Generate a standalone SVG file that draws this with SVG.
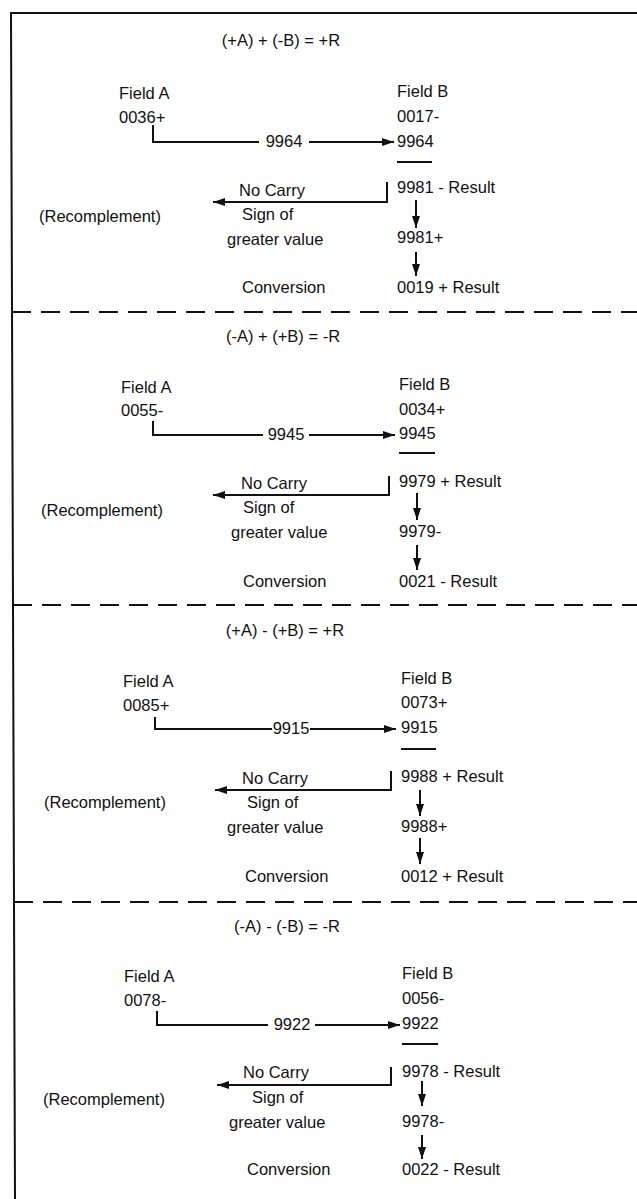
<svg xmlns="http://www.w3.org/2000/svg" width="637" height="1199" viewBox="0 0 637 1199">
<defs>
<style>
text{font-family:"Liberation Sans",Arial,sans-serif;font-size:16.5px;fill:#111}
.t{text-anchor:middle}
.m{text-anchor:middle}
.c{fill:none;stroke:#111;stroke-width:2}
.d{fill:none;stroke:#111;stroke-width:2.2;stroke-dasharray:19 10}
.u{stroke:#111;stroke-width:2}
</style>
<marker id="ah" markerUnits="userSpaceOnUse" markerWidth="12" markerHeight="10" viewBox="0 0 12 10" refX="12" refY="5" orient="auto">
<path d="M0,1 L12,5 L0,9 Z" fill="#111"/>
</marker>
</defs>
<rect width="637" height="1199" fill="#fff"/>
<g id="frame">
<path class="c" d="M637,13 H11 L15,1199"/>
<path class="d" d="M12,312 H637"/>
<path class="d" d="M13,605 H637"/>
<path class="d" d="M14,902 H637"/>
</g>

<g id="section1">
<g id="s1-title"><text class="t" x="281" y="46">(+A) + (-B) = +R</text></g>
<g id="s1-fieldA"><text x="119" y="99">Field A</text><text x="119" y="123">0036+</text></g>
<g id="s1-fieldB"><text x="397" y="97">Field B</text><text x="397" y="122">0017-</text><text x="397" y="147">9964</text><line class="u" x1="397" y1="162" x2="432" y2="162"/></g>
<g id="s1-result"><text x="397" y="193">9981 - Result</text></g>
<g id="s1-nocarry"><text x="239" y="196">No Carry</text></g>
<g id="s1-sign"><text x="242" y="220">Sign of</text><text x="227" y="245">greater value</text></g>
<g id="s1-recomp"><text x="39" y="222">(Recomplement)</text></g>
<g id="s1-signed"><text x="397" y="243">9981+</text></g>
<g id="s1-final"><text x="397" y="293">0019 + Result</text></g>
<g id="s1-conv"><text x="242" y="293">Conversion</text></g>
</g>

<g id="section2">
<g id="s2-title"><text class="t" x="283" y="342">(-A) + (+B) = -R</text></g>
<g id="s2-fieldA"><text x="121" y="393">Field A</text><text x="121" y="416">0055-</text></g>
<g id="s2-fieldB"><text x="399" y="390">Field B</text><text x="399" y="415">0034+</text><text x="399" y="439">9945</text><line class="u" x1="399" y1="453" x2="435" y2="453"/></g>
<g id="s2-result"><text x="399" y="487">9979 + Result</text></g>
<g id="s2-nocarry"><text x="241" y="489">No Carry</text></g>
<g id="s2-sign"><text x="243" y="513">Sign of</text><text x="231" y="538">greater value</text></g>
<g id="s2-recomp"><text x="41" y="516">(Recomplement)</text></g>
<g id="s2-signed"><text x="399" y="537">9979-</text></g>
<g id="s2-final"><text x="399" y="587">0021 - Result</text></g>
<g id="s2-conv"><text x="243" y="587">Conversion</text></g>
</g>

<g id="section3">
<g id="s3-title"><text class="t" x="285" y="636">(+A) - (+B) = +R</text></g>
<g id="s3-fieldA"><text x="123" y="687">Field A</text><text x="123" y="711">0085+</text></g>
<g id="s3-fieldB"><text x="401" y="684">Field B</text><text x="401" y="708">0073+</text><text x="401" y="733">9915</text><line class="u" x1="401" y1="749" x2="436" y2="749"/></g>
<g id="s3-result"><text x="401" y="782">9988 + Result</text></g>
<g id="s3-nocarry"><text x="242" y="784">No Carry</text></g>
<g id="s3-sign"><text x="247" y="808">Sign of</text><text x="227" y="833">greater value</text></g>
<g id="s3-recomp"><text x="44" y="808">(Recomplement)</text></g>
<g id="s3-signed"><text x="401" y="832">9988+</text></g>
<g id="s3-final"><text x="401" y="882">0012 + Result</text></g>
<g id="s3-conv"><text x="245" y="882">Conversion</text></g>
</g>

<g id="section4">
<g id="s4-title"><text class="t" x="287" y="932">(-A) - (-B) = -R</text></g>
<g id="s4-fieldA"><text x="124" y="982">Field A</text><text x="124" y="1006">0078-</text></g>
<g id="s4-fieldB"><text x="402" y="979">Field B</text><text x="402" y="1004">0056-</text><text x="402" y="1029">9922</text><line class="u" x1="402" y1="1044" x2="438" y2="1044"/></g>
<g id="s4-result"><text x="402" y="1077">9978 - Result</text></g>
<g id="s4-nocarry"><text x="243" y="1078">No Carry</text></g>
<g id="s4-sign"><text x="252" y="1103">Sign of</text><text x="229" y="1128">greater value</text></g>
<g id="s4-recomp"><text x="43" y="1105">(Recomplement)</text></g>
<g id="s4-signed"><text x="402" y="1127">9978-</text></g>
<g id="s4-final"><text x="402" y="1175">0022 - Result</text></g>
<g id="s4-conv"><text x="247" y="1175">Conversion</text></g>
</g>

<g id="connectors">
<path class="c" d="M153,125 V142 H259"/>
<text class="m" x="284" y="147">9964</text>
<path class="c" d="M309,142 H394" marker-end="url(#ah)"/>
<path class="c" d="M387,182 V202 H213" marker-end="url(#ah)"/>
<path class="c" d="M416,200 V228" marker-end="url(#ah)"/>
<path class="c" d="M416,252 V276" marker-end="url(#ah)"/>

<path class="c" d="M153,421 V435 H263"/>
<text class="m" x="286" y="440">9945</text>
<path class="c" d="M309,435 H395" marker-end="url(#ah)"/>
<path class="c" d="M389,476 V495 H213" marker-end="url(#ah)"/>
<path class="c" d="M417,493 V520" marker-end="url(#ah)"/>
<path class="c" d="M417,545 V570" marker-end="url(#ah)"/>

<path class="c" d="M155,717 V729 H272"/>
<text class="m" x="291" y="734">9915</text>
<path class="c" d="M310,729 H396" marker-end="url(#ah)"/>
<path class="c" d="M391,771 V790 H215" marker-end="url(#ah)"/>
<path class="c" d="M420,790 V816" marker-end="url(#ah)"/>
<path class="c" d="M420,838 V864" marker-end="url(#ah)"/>

<path class="c" d="M157,1011 V1025 H268"/>
<text class="m" x="292" y="1030">9922</text>
<path class="c" d="M315,1025 H400" marker-end="url(#ah)"/>
<path class="c" d="M391,1067 V1085 H217" marker-end="url(#ah)"/>
<path class="c" d="M422,1081 V1106" marker-end="url(#ah)"/>
<path class="c" d="M422,1135 V1159" marker-end="url(#ah)"/>
</g>
</svg>
